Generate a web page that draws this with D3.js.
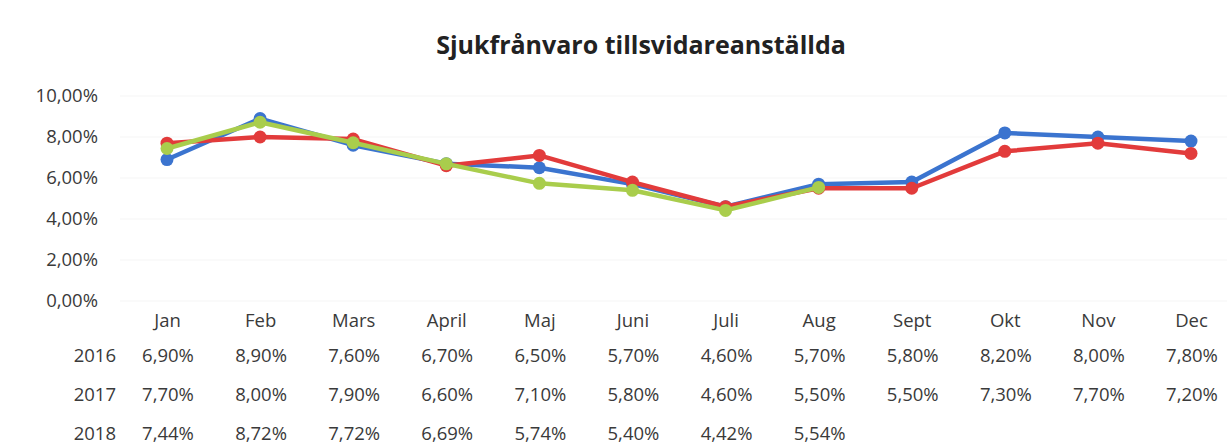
<!DOCTYPE html>
<html lang="sv">
<head>
<meta charset="UTF-8">
<title>Sjukfrånvaro tillsvidareanställda</title>
<script src="https://cdn.jsdelivr.net/npm/d3@7"></script>
<style>
    body { margin: 0; background: #fff; }
    svg { display: block; }
    .axis path, .axis line { display: none; }
    .axis text, .tbl { font-family: "Open Sans", sans-serif; font-size: 18.5px; fill: #3a3a3a; }
</style>
</head>
<body>
<svg></svg>
<script>
// DATA
const months = ["Jan", "Feb", "Mars", "April", "Maj", "Juni", "Juli", "Aug", "Sept", "Okt", "Nov", "Dec"];
const years = ["2016", "2017", "2018"];
const v2016 = [6.9, 8.9, 7.6, 6.7, 6.5, 5.7, 4.6, 5.7, 5.8, 8.2, 8.0, 7.8];
const v2017 = [7.7, 8.0, 7.9, 6.6, 7.1, 5.8, 4.6, 5.5, 5.5, 7.3, 7.7, 7.2];
const v2018 = [7.44, 8.72, 7.72, 6.69, 5.74, 5.40, 4.42, 5.54];
const yTicks = [0, 2, 4, 6, 8, 10];

const series = [
    {year: "2016", values: v2016, color: "#3b74cf"},
    {year: "2017", values: v2017, color: "#e23b3b"},
    {year: "2018", values: v2018, color: "#a9cd4c"}
];

// CHART dimensions
const W = 1227, H = 447;
const svg = d3.select("svg").attr("width", W).attr("height", H);

const sv = d3.formatLocale({decimal: ",", thousands: " ", grouping: [3], currency: ["", " kr"]});
const pct = v => sv.format(".2f")(v) + "%";

// SCALES
const x = d3.scalePoint().domain(months).range([167, 1191]);
const y = d3.scaleLinear().domain([0, 10]).range([301, 96]);

// title
svg.append("text")
    .attr("x", 641).attr("y", 54)
    .attr("text-anchor", "middle")
    .style("font-family", "'Open Sans', sans-serif")
    .style("font-size", "25px").style("font-weight", "bold").style("fill", "#222")
    .text("Sjukfrånvaro tillsvidareanställda");

// faint gridlines
svg.append("g").selectAll("line")
    .data(yTicks)
    .join("line")
    .attr("x1", 120).attr("x2", W)
    .attr("y1", d => y(d)).attr("y2", d => y(d))
    .attr("stroke", "#f5f5f5").attr("stroke-width", 1);

// y axis
svg.append("g")
    .attr("class", "axis")
    .attr("transform", "translate(98,0)")
    .call(d3.axisLeft(y).tickValues(yTicks).tickSize(0).tickPadding(0).tickFormat(pct));

// x axis labels
svg.append("g")
    .attr("class", "axis")
    .attr("transform", "translate(0,306)")
    .call(d3.axisBottom(x).tickSize(0).tickPadding(8));

// LINES
const line = d3.line()
    .x((d, i) => x(months[i]))
    .y(d => y(d));

const g = svg.append("g");
series.forEach(s => {
    g.append("path")
        .datum(s.values)
        .attr("d", line)
        .attr("fill", "none")
        .attr("stroke", s.color)
        .attr("stroke-width", 4.5)
        .attr("stroke-linejoin", "round");
    g.selectAll(null)
        .data(s.values)
        .join("circle")
        .attr("cx", (d, i) => x(months[i]))
        .attr("cy", d => y(d))
        .attr("r", 6.5)
        .attr("fill", s.color);
});

// DATA TABLE
const rowY = d3.scalePoint().domain(years).range([362, 440]);
series.forEach(s => {
    svg.append("text")
        .attr("class", "tbl")
        .attr("x", 116).attr("y", rowY(s.year))
        .attr("text-anchor", "end")
        .text(s.year);
    svg.append("g").selectAll("text")
        .data(s.values)
        .join("text")
        .attr("class", "tbl")
        .attr("x", (d, i) => x(months[i]) + 1)
        .attr("y", rowY(s.year))
        .attr("text-anchor", "middle")
        .text(d => pct(d));
});
</script>
</body>
</html>
